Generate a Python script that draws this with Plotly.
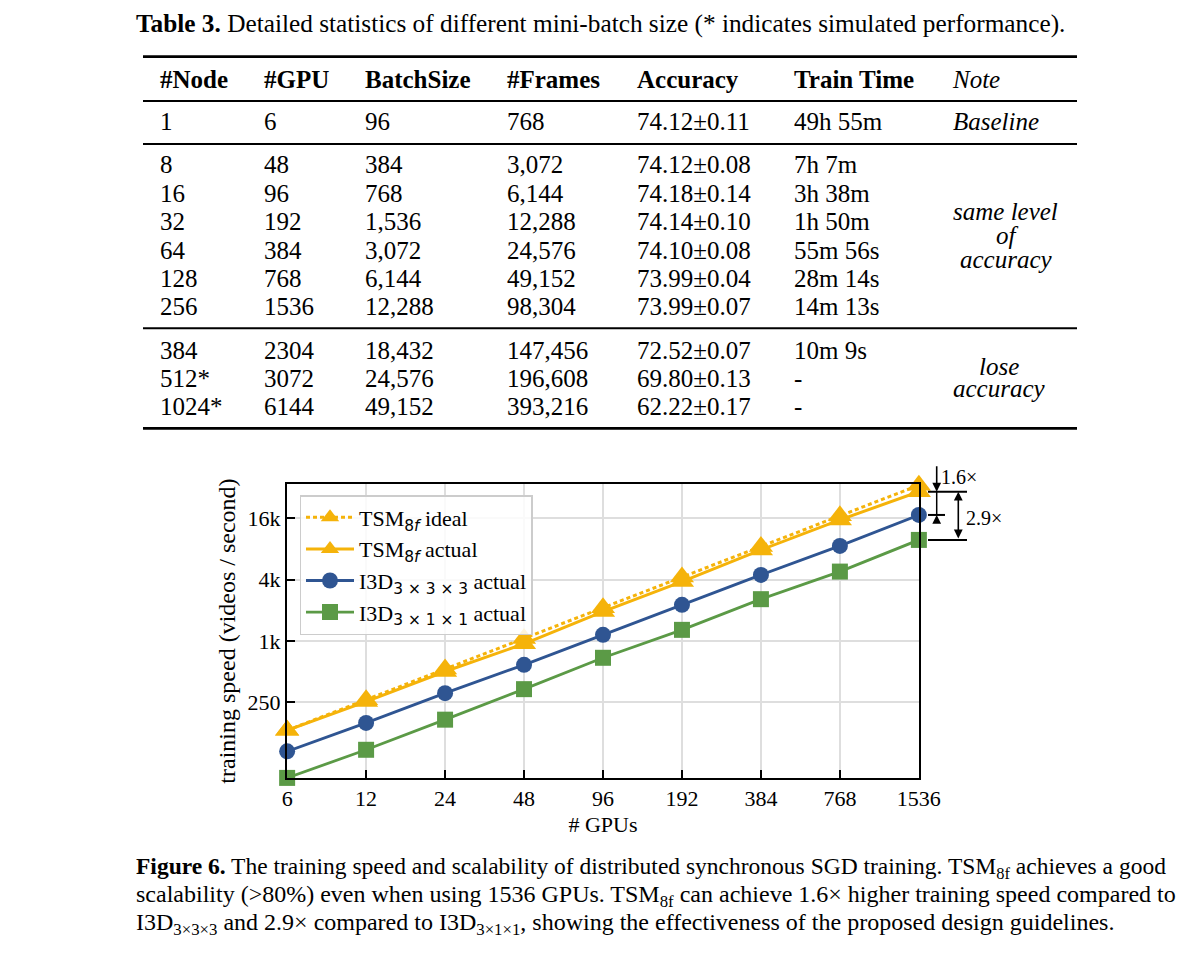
import plotly.graph_objects as go
import math

# ---------------- data ----------------
gpus = [6, 12, 24, 48, 96, 192, 384, 768, 1536]
gpu_labels = ["6", "12", "24", "48", "96", "192", "384", "768", "1536"]
tsm_ideal = [132, 264, 528, 1056, 2112, 4224, 8448, 16896, 33792]
tsm_actual = [132, 253, 499, 934, 1937, 3817, 7813, 15395, 29180]
i3d_333 = [82, 156, 306, 581, 1144, 2254, 4441, 8551, 17230]
i3d_311 = [45, 85, 168, 335, 681, 1281, 2564, 4785, 9796]
ytick_vals = [250, 1000, 4000, 16000]
ytick_text = ["250", "1k", "4k", "16k"]
ratio_labels = ["1.6×", "2.9×"]

tbl_header = ["#Node", "#GPU", "BatchSize", "#Frames", "Accuracy", "Train Time", "Note"]
tbl_node = ["1", "8", "16", "32", "64", "128", "256", "384", "512*", "1024*"]
tbl_gpu = ["6", "48", "96", "192", "384", "768", "1536", "2304", "3072", "6144"]
tbl_batch = ["96", "384", "768", "1,536", "3,072", "6,144", "12,288", "18,432", "24,576", "49,152"]
tbl_frames = ["768", "3,072", "6,144", "12,288", "24,576", "49,152", "98,304", "147,456", "196,608", "393,216"]
tbl_acc = ["74.12±0.11", "74.12±0.08", "74.18±0.14", "74.14±0.10", "74.10±0.08", "73.99±0.04",
           "73.99±0.07", "72.52±0.07", "69.80±0.13", "62.22±0.17"]
tbl_time = ["49h 55m", "7h 7m", "3h 38m", "1h 50m", "55m 56s", "28m 14s", "14m 13s", "10m 9s", "-", "-"]
tbl_notes = [["Baseline"], ["same level", "of", "accuracy"], ["lose", "accuracy"]]

table_title = "<b>Table 3.</b> Detailed statistics of different mini-batch size (* indicates simulated performance)."
caption_lines = [
    "<b>Figure 6.</b> The training speed and scalability of distributed synchronous SGD training. TSM<sub>8f</sub> achieves a good",
    "scalability (&gt;80%) even when using 1536 GPUs. TSM<sub>8f</sub> can achieve 1.6× higher training speed compared to",
    "I3D<sub>3×3×3</sub> and 2.9× compared to I3D<sub>3×1×1</sub>, showing the effectiveness of the proposed design guidelines.",
]

# ---------------- layout constants (reference pixels) ----------------
OFF = 8  # page body margin
W_FIG, H_FIG = 1200 - OFF, 960 - OFF
PL, PR, PT, PB = 287, 919, 484, 778
FONT = "Liberation Serif"
GOLD, BLUE, GREEN = "#F5B30A", "#2F5592", "#5B9A46"


def px(x):
    return (x - PL) / (PR - PL)


def py(y):
    return (PB - y) / (PB - PT)


SUBF = "<span style='font-family:DejaVu Sans'>"
fig = go.Figure()
series = [
    ("TSM<sub>" + SUBF + "8<i>f</i></span></sub> ideal", tsm_ideal, GOLD, "triangle-up", 21, "4px,3px", 3),
    ("TSM<sub>" + SUBF + "8<i>f</i></span></sub> actual", tsm_actual, GOLD, "triangle-up", 21, "solid", 3),
    ("I3D<sub>" + SUBF + "3 × 3 × 3</span></sub> actual", i3d_333, BLUE, "circle", 16, "solid", 2.8),
    ("I3D<sub>" + SUBF + "3 × 1 × 1</span></sub> actual", i3d_311, GREEN, "square", 16, "solid", 2.8),
]
for i, (name, vals, col, sym, ms, dash, lw) in enumerate(series):
    fig.add_trace(go.Scatter(
        x=gpus, y=vals, name=name, mode="lines+markers", legendgroup=str(i),
        line=dict(color=col, width=lw, dash=dash),
        marker=dict(symbol=sym, size=ms, color=col, line=dict(width=0)),
        cliponaxis=False,
    ))

axis_common = dict(
    showline=True, linecolor="black", linewidth=2, mirror=True,
    ticks="inside", ticklen=8, tickwidth=2, tickcolor="black",
    showgrid=True, gridcolor="#dedede", gridwidth=1.5, zeroline=False,
    tickfont=dict(family=FONT, size=22, color="black"),
)
fig.update_xaxes(type="log", range=[math.log10(6) - 0.0005, math.log10(1536) + 0.0005],
                 tickvals=gpus, ticktext=gpu_labels,
                 title=dict(text="# GPUs", font=dict(family=FONT, size=22, color="black"), standoff=6),
                 **axis_common)
fig.update_yaxes(type="log", range=[math.log10(44.9), math.log10(34700)],
                 tickvals=ytick_vals, ticktext=ytick_text,
                 title=dict(text="training speed (videos / second)", font=dict(family=FONT, size=24, color="black"),
                            standoff=5),
                 **axis_common)

shapes = []
ann = []

# ---------------- ratio markers ----------------
top_v, mid_v, low_v = tsm_actual[-1], i3d_333[-1], i3d_311[-1]
for v, x1 in [(top_v, 967), (mid_v, 945), (low_v, 967)]:
    shapes.append(dict(type="line", xref="paper", yref="y", x0=px(928), x1=px(x1), y0=v, y1=v,
                       line=dict(color="black", width=2)))
shapes.append(dict(type="line", xref="paper", yref="y", x0=px(936.7), x1=px(936.7), y0=top_v, y1=mid_v,
                   line=dict(color="black", width=1.5)))
arrow_style = dict(showarrow=True, arrowhead=2, arrowsize=1.1, arrowwidth=1.6, arrowcolor="black", text="")
ann.append(dict(xref="paper", yref="y", x=px(936.7), y=math.log10(top_v), ax=0, ay=-27, **arrow_style))
ann.append(dict(xref="paper", yref="y", x=px(936.7), y=math.log10(mid_v), ax=0, ay=6, **arrow_style))
ann.append(dict(xref="paper", yref="y", x=px(958.3), y=math.log10(top_v), ax=0, ayref="y",
                ay=math.log10(low_v), arrowside="end+start", **arrow_style))
ann.append(dict(xref="paper", yref="paper", x=px(939), y=py(477), text=ratio_labels[0], showarrow=False,
                xanchor="left", yanchor="middle", font=dict(family=FONT, size=20, color="black")))
ann.append(dict(xref="paper", yref="paper", x=px(964), y=py(518), text=ratio_labels[1], showarrow=False,
                xanchor="left", yanchor="middle", font=dict(family=FONT, size=20, color="black")))

# ---------------- table ----------------
TFS = 25
col_x = [158, 262, 363, 505, 635, 792, 950]
row_y = [121.7] + [165 + 28.35 * k for k in range(6)] + [350 + 28.35 * k for k in range(3)]
for j, h in enumerate(tbl_header):
    txt = "<i>" + h + "</i>" if h == "Note" else "<b>" + h + "</b>"
    ann.append(dict(xref="paper", yref="paper", x=px(col_x[j]), y=py(79.3), text=txt, showarrow=False,
                    xanchor="left", yanchor="middle", font=dict(family=FONT, size=TFS, color="black")))
cols = [tbl_node, tbl_gpu, tbl_batch, tbl_frames, tbl_acc, tbl_time]
for j, col in enumerate(cols):
    for i, val in enumerate(col):
        ann.append(dict(xref="paper", yref="paper", x=px(col_x[j]), y=py(row_y[i]), text=val, showarrow=False,
                        xanchor="left", yanchor="middle", font=dict(family=FONT, size=TFS, color="black")))
note_pos = [[(996, 121.7)], [(1005.5, 211.7), (1007, 235.5), (1006, 259.5)], [(999, 366.7), (999, 388.3)]]
for grp, pos in zip(tbl_notes, note_pos):
    for t, (xx, yy) in zip(grp, pos):
        ann.append(dict(xref="paper", yref="paper", x=px(xx), y=py(yy), text="<i>" + t + "</i>", showarrow=False,
                        xanchor="center", yanchor="middle", font=dict(family=FONT, size=TFS, color="black")))
for yy, wdt in [(56.7, 2.8), (101, 2), (144, 2), (328.3, 2), (428.3, 2.8)]:
    shapes.append(dict(type="line", xref="paper", yref="paper", x0=px(143), x1=px(1077), y0=py(yy), y1=py(yy),
                       line=dict(color="black", width=wdt)))

ann.append(dict(xref="paper", yref="paper", x=px(600), y=py(23), text=table_title, showarrow=False,
                xanchor="center", yanchor="middle", font=dict(family=FONT, size=25.3, color="black")))

cap_sizes = [23.5, 24, 24]
for k, line in enumerate(caption_lines):
    ann.append(dict(xref="paper", yref="paper", x=px(134), y=py(868 + 28 * k), text=line, showarrow=False,
                    xanchor="left", yanchor="middle", font=dict(family=FONT, size=cap_sizes[k], color="black")))

fig.update_layout(
    width=W_FIG, height=H_FIG,
    margin=dict(l=PL - OFF, r=W_FIG - (PR - OFF), t=PT - OFF, b=H_FIG - (PB - OFF), pad=0),
    paper_bgcolor="white", plot_bgcolor="white",
    showlegend=True,
    legend=dict(x=px(299.5), y=py(495), xanchor="left", yanchor="top",
                bgcolor="rgba(255,255,255,0.85)", bordercolor="#cccccc", borderwidth=1.5,
                font=dict(family=FONT, size=22, color="black"), itemwidth=48,
                tracegroupgap=0, traceorder="grouped"),
    shapes=shapes, annotations=ann,
)

fig.write_html("out.html")
